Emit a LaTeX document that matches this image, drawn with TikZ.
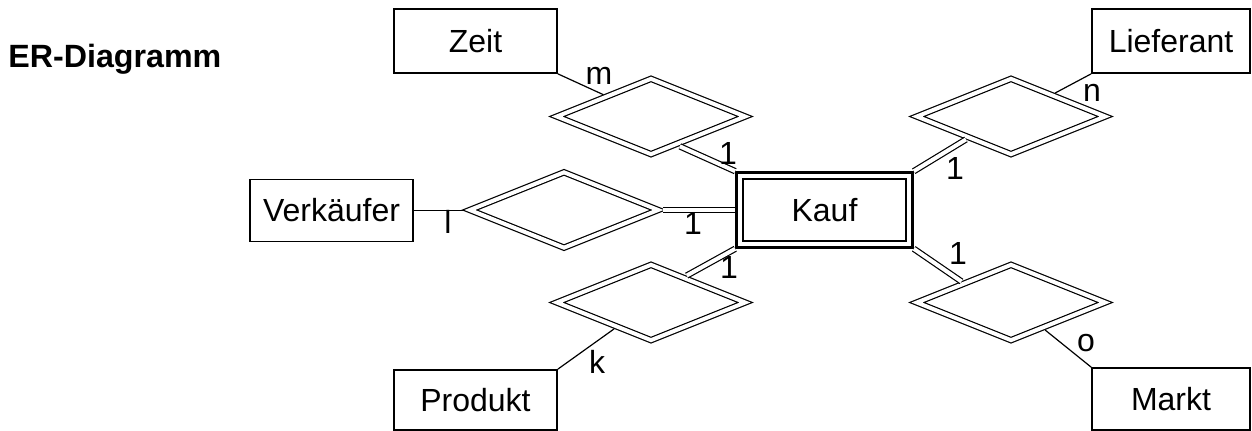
\documentclass[tikz,border=0pt]{standalone}
\usepackage{fontspec}
\setmainfont{Liberation Sans}
\usepackage{tikz}
\usetikzlibrary{shapes, positioning}

\begin{document}
\begin{tikzpicture}[x=0.5pt, y=-0.5pt,
    font=\fontsize{16}{19}\selectfont,
    entity/.style={draw, rectangle, line width=0.85pt, inner sep=0pt},
    relation/.style={draw, diamond, double, line width=0.6pt, double distance=2pt, inner sep=0pt, outer sep=1.6pt, minimum width=95.5pt, minimum height=39pt},
    link/.style={line width=0.6pt},
    doublelink/.style={double, line width=0.6pt, double distance=2pt},
    card/.style={inner sep=0pt}]
            \useasboundingbox (0,0) rectangle (1252,431);

            \node [anchor=base west, inner sep=0pt, font=\fontsize{16.1}{19}\selectfont\bfseries] (title) at (8,68) {ER-Diagramm};

            \node [draw, rectangle, double, line width=1.2pt, double distance=2.2pt, outer sep=2.3pt, minimum width=84.7pt, minimum height=34.2pt] (kauf) at (824.5,210) {Kauf};

            \node [entity, minimum width=81.5pt, minimum height=32pt] (zeit) at (475.5,41) {Zeit};
            \node [entity, minimum width=79pt, minimum height=32pt] (lieferant) at (1171,41) {Lieferant};
            \node [entity, minimum width=81.5pt, minimum height=31pt] (verkaeufer) at (331.5,210.5) {Verkäufer};
            \node [entity, minimum width=81.5pt, minimum height=30pt] (produkt) at (475.5,400) {Produkt};
            \node [entity, minimum width=79pt, minimum height=31pt] (markt) at (1171,399) {Markt};

            \node [relation] (rzeit) at (651,116.5) {};
            \node [relation] (rlieferant) at (1011,116.5) {};
            \node [relation] (rverkaeufer) at (564,210) {};
            \node [relation] (rprodukt) at (651,302.5) {};
            \node [relation] (rmarkt) at (1011,302.5) {};

            \draw [link] (verkaeufer.east) -- (verkaeufer.east -| rverkaeufer.west);
            \draw [link] (zeit.south east) -- (rzeit);
            \draw [link] (lieferant.south west) -- (rlieferant);
            \draw [link] (produkt.north east) -- (rprodukt);
            \draw [link] (markt.north west) -- (rmarkt);

            \draw [doublelink] (rzeit.-46) -- (kauf.north west);
            \draw [doublelink] (rlieferant.207) -- (kauf.north east);
            \draw [doublelink] (rverkaeufer.east) -- (rverkaeufer.east -| kauf.west);
            \draw [doublelink] (rprodukt.37) -- (kauf.south west);
            \draw [doublelink] (rmarkt.157) -- (kauf.south east);

            \node [card] (czeit) at (599,76) {m};
            \node [card] (clieferant) at (1092,93) {n};
            \node [card] (cverkaeufer) at (448,222) {l};
            \node [card] (cprodukt) at (597,362) {k};
            \node [card] (cmarkt) at (1086,343) {o};
            \node [card] (kzeit) at (728,153) {1};
            \node [card] (klieferant) at (955,168) {1};
            \node [card] (kverkaeufer) at (693,223) {1};
            \node [card] (kprodukt) at (729,267) {1};
            \node [card] (kmarkt) at (958,253) {1};
          \end{tikzpicture}
\end{document}
